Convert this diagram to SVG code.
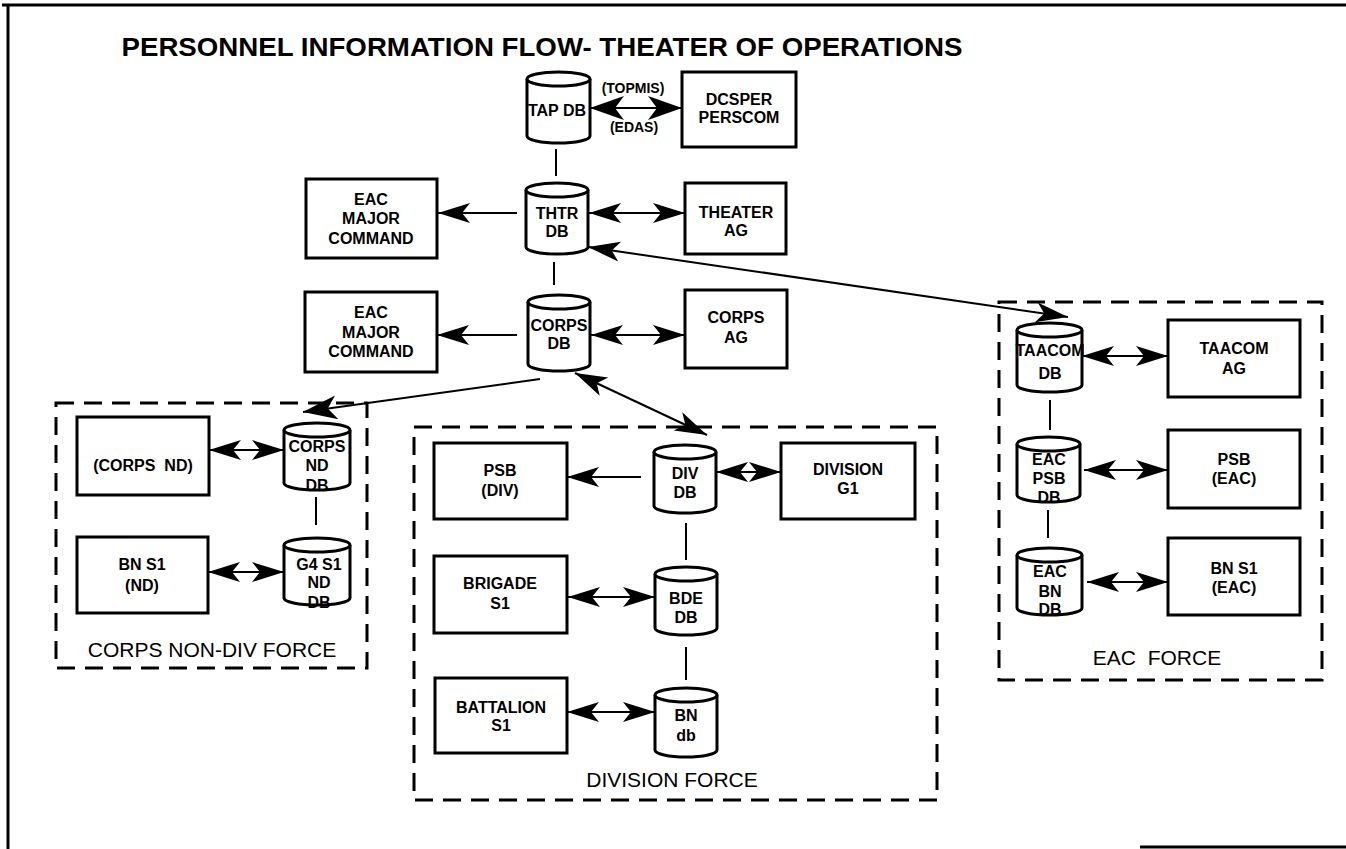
<svg xmlns="http://www.w3.org/2000/svg" width="1346" height="849" viewBox="0 0 1346 849">
  <style>
    text { font-family: "Liberation Sans", Arial, sans-serif; fill: #000; }
    .lbl { font-size: 16px; font-weight: bold; text-anchor: middle; }
    .sm { font-size: 14px; font-weight: bold; text-anchor: middle; }
    .grp { font-size: 21px; text-anchor: middle; }
    .title { font-size: 25px; font-weight: bold; text-anchor: middle; }
    .box { fill: #fff; stroke: #000; stroke-width: 3; }
    .cyl { fill: #fff; stroke: #000; stroke-width: 3; }
    .force { fill: none; stroke: #000; stroke-width: 3; stroke-dasharray: 18 10; }
    .frame { stroke: #000; stroke-width: 3; fill: none; }
    .link { stroke: #000; stroke-width: 2; fill: none; }
    .a1 { marker-end: url(#ah); }
    .a2 { marker-start: url(#ah); marker-end: url(#ah); }
    .b1 { marker-end: url(#ahl); }
    .b2 { marker-start: url(#ahl); marker-end: url(#ahl); }
  </style>
  <defs>
    <marker id="ah" viewBox="-34 -11 36 22" refX="0" refY="0" markerWidth="36" markerHeight="22" markerUnits="userSpaceOnUse" orient="auto-start-reverse">
      <path d="M0,0 L-32,-10 L-24,0 L-32,10 Z" fill="#000"/>
    </marker>
    <marker id="ahl" viewBox="-36 -13 38 26" refX="0" refY="0" markerWidth="38" markerHeight="26" markerUnits="userSpaceOnUse" orient="auto-start-reverse">
      <path d="M0,0 L-34,-12 L-25,0 L-34,12 Z" fill="#000"/>
    </marker>
  </defs>

  <rect width="1346" height="849" fill="#fff"/>

  <!-- page frame -->
  <g id="frame">
    <line class="frame" x1="2" y1="5" x2="1346" y2="5"/>
    <line class="frame" x1="8" y1="5" x2="8" y2="849"/>
    <line class="frame" x1="1140" y1="847" x2="1346" y2="847"/>
  </g>

  <text class="title" x="542" y="56" textLength="841" lengthAdjust="spacingAndGlyphs">PERSONNEL INFORMATION FLOW- THEATER OF OPERATIONS</text>

  <!-- force groupings -->
  <g id="corps-nondiv-force">
    <rect class="force" x="56" y="403" width="311" height="265"/>
    <text class="grp" x="212" y="657">CORPS NON-DIV FORCE</text>
  </g>
  <g id="division-force">
    <rect class="force" x="414" y="427" width="523" height="373"/>
    <text class="grp" x="672" y="787">DIVISION FORCE</text>
  </g>
  <g id="eac-force">
    <rect class="force" x="999" y="302" width="323" height="378"/>
    <text class="grp" x="1157" y="665">EAC&#160; FORCE</text>
  </g>

  <!-- connectors -->
  <g id="connectors">
    <line class="link b2" x1="590" y1="108" x2="682" y2="108"/>
    <text class="sm" x="633" y="93">(TOPMIS)</text>
    <text class="sm" x="634" y="132">(EDAS)</text>
    <line class="link" x1="556" y1="149" x2="556" y2="176"/>
    <line class="link a1" x1="517" y1="213" x2="438" y2="213"/>
    <line class="link a2" x1="589" y1="213" x2="685" y2="213"/>
    <line class="link a2" x1="588" y1="247" x2="1068" y2="317"/>
    <line class="link" x1="554" y1="262" x2="554" y2="285"/>
    <line class="link a1" x1="517" y1="335" x2="437" y2="335"/>
    <line class="link a2" x1="591" y1="335" x2="685" y2="335"/>
    <line class="link b1" x1="540" y1="379" x2="303" y2="412"/>
    <line class="link a2" x1="575" y1="373" x2="707" y2="435"/>
    <line class="link a2" x1="209" y1="450" x2="284" y2="450"/>
    <line class="link" x1="316" y1="497" x2="316" y2="525"/>
    <line class="link a2" x1="208" y1="572" x2="284" y2="572"/>
    <line class="link a1" x1="641" y1="477" x2="567" y2="477"/>
    <line class="link a2" x1="716" y1="472" x2="781" y2="472"/>
    <line class="link" x1="686" y1="523" x2="686" y2="560"/>
    <line class="link a2" x1="568" y1="597" x2="655" y2="597"/>
    <line class="link" x1="686" y1="647" x2="686" y2="680"/>
    <line class="link a2" x1="567" y1="712" x2="655" y2="712"/>
    <line class="link a2" x1="1082" y1="356" x2="1168" y2="356"/>
    <line class="link" x1="1050" y1="400" x2="1050" y2="430"/>
    <line class="link a2" x1="1084" y1="470" x2="1168" y2="470"/>
    <line class="link" x1="1048" y1="510" x2="1048" y2="538"/>
    <line class="link a2" x1="1087" y1="582" x2="1168" y2="582"/>
  </g>

  <!-- top chain -->
  <g id="tap-db">
    <path class="cyl" d="M527,79 A31.5,7 0 0 1 590,79 V136 A31.5,7 0 0 1 527,136 Z"/>
    <path class="cyl" d="M527,79 A31.5,7 0 0 0 590,79"/>
    <text class="lbl" x="557" y="116">TAP DB</text>
  </g>
  <g id="dcsper-perscom">
    <rect class="box" x="682" y="72" width="114" height="75"/>
    <text class="lbl" x="739" y="105">DCSPER</text>
    <text class="lbl" x="739" y="123">PERSCOM</text>
  </g>
  <g id="thtr-db">
    <path class="cyl" d="M526,190 A31,7 0 0 1 588,190 V247 A31,7 0 0 1 526,247 Z"/>
    <path class="cyl" d="M526,190 A31,7 0 0 0 588,190"/>
    <text class="lbl" x="557" y="219">THTR</text>
    <text class="lbl" x="557" y="237">DB</text>
  </g>
  <g id="eac-major-command-1">
    <rect class="box" x="306" y="179" width="131" height="79"/>
    <text class="lbl" x="371" y="205">EAC</text>
    <text class="lbl" x="371" y="224">MAJOR</text>
    <text class="lbl" x="371" y="244">COMMAND</text>
  </g>
  <g id="theater-ag">
    <rect class="box" x="685" y="183" width="101" height="71"/>
    <text class="lbl" x="736" y="218">THEATER</text>
    <text class="lbl" x="736" y="236">AG</text>
  </g>
  <g id="corps-db">
    <path class="cyl" d="M528,302 A31,7 0 0 1 590,302 V364 A31,7 0 0 1 528,364 Z"/>
    <path class="cyl" d="M528,302 A31,7 0 0 0 590,302"/>
    <text class="lbl" x="559" y="331">CORPS</text>
    <text class="lbl" x="559" y="349">DB</text>
  </g>
  <g id="eac-major-command-2">
    <rect class="box" x="305" y="292" width="132" height="80"/>
    <text class="lbl" x="371" y="318">EAC</text>
    <text class="lbl" x="371" y="338">MAJOR</text>
    <text class="lbl" x="371" y="357">COMMAND</text>
  </g>
  <g id="corps-ag">
    <rect class="box" x="685" y="290" width="102" height="78"/>
    <text class="lbl" x="736" y="323">CORPS</text>
    <text class="lbl" x="736" y="343">AG</text>
  </g>

  <!-- corps non-div -->
  <g id="corps-nd">
    <rect class="box" x="77" y="417" width="132" height="78"/>
    <text class="lbl" x="143" y="471">(CORPS&#160; ND)</text>
  </g>
  <g id="corps-nd-db">
    <path class="cyl" d="M284,430 A33,7 0 0 1 350,430 V483 A33,7 0 0 1 284,483 Z"/>
    <path class="cyl" d="M284,430 A33,7 0 0 0 350,430"/>
    <text class="lbl" x="317" y="452">CORPS</text>
    <text class="lbl" x="317" y="471">ND</text>
    <text class="lbl" x="317" y="491">DB</text>
  </g>
  <g id="bn-s1-nd">
    <rect class="box" x="77" y="537" width="131" height="76"/>
    <text class="lbl" x="142" y="570">BN S1</text>
    <text class="lbl" x="142" y="591">(ND)</text>
  </g>
  <g id="g4-s1-nd-db">
    <path class="cyl" d="M284,545 A33,7 0 0 1 350,545 V598 A33,7 0 0 1 284,598 Z"/>
    <path class="cyl" d="M284,545 A33,7 0 0 0 350,545"/>
    <text class="lbl" x="319" y="570">G4 S1</text>
    <text class="lbl" x="319" y="588">ND</text>
    <text class="lbl" x="319" y="608">DB</text>
  </g>

  <!-- division -->
  <g id="psb-div">
    <rect class="box" x="434" y="443" width="133" height="76"/>
    <text class="lbl" x="500" y="476">PSB</text>
    <text class="lbl" x="500" y="496">(DIV)</text>
  </g>
  <g id="div-db">
    <path class="cyl" d="M654,452 A31,7 0 0 1 716,452 V506 A31,7 0 0 1 654,506 Z"/>
    <path class="cyl" d="M654,452 A31,7 0 0 0 716,452"/>
    <text class="lbl" x="685" y="479">DIV</text>
    <text class="lbl" x="685" y="498">DB</text>
  </g>
  <g id="division-g1">
    <rect class="box" x="781" y="443" width="134" height="76"/>
    <text class="lbl" x="848" y="475">DIVISION</text>
    <text class="lbl" x="848" y="494">G1</text>
  </g>
  <g id="brigade-s1">
    <rect class="box" x="434" y="556" width="133" height="77"/>
    <text class="lbl" x="500" y="589">BRIGADE</text>
    <text class="lbl" x="500" y="609">S1</text>
  </g>
  <g id="bde-db">
    <path class="cyl" d="M655,574 A31,7 0 0 1 717,574 V628 A31,7 0 0 1 655,628 Z"/>
    <path class="cyl" d="M655,574 A31,7 0 0 0 717,574"/>
    <text class="lbl" x="686" y="604">BDE</text>
    <text class="lbl" x="686" y="623">DB</text>
  </g>
  <g id="battalion-s1">
    <rect class="box" x="435" y="678" width="132" height="75"/>
    <text class="lbl" x="501" y="713">BATTALION</text>
    <text class="lbl" x="501" y="731">S1</text>
  </g>
  <g id="bn-db">
    <path class="cyl" d="M655,695 A31,7 0 0 1 717,695 V750 A31,7 0 0 1 655,750 Z"/>
    <path class="cyl" d="M655,695 A31,7 0 0 0 717,695"/>
    <text class="lbl" x="686" y="721">BN</text>
    <text class="lbl" x="686" y="741">db</text>
  </g>

  <!-- echelons above corps -->
  <g id="taacom-db">
    <path class="cyl" d="M1017,330 A32.5,7 0 0 1 1082,330 V385 A32.5,7 0 0 1 1017,385 Z"/>
    <path class="cyl" d="M1017,330 A32.5,7 0 0 0 1082,330"/>
    <text class="lbl" x="1050" y="356">TAACOM</text>
    <text class="lbl" x="1050" y="379">DB</text>
  </g>
  <g id="taacom-ag">
    <rect class="box" x="1168" y="320" width="132" height="77"/>
    <text class="lbl" x="1234" y="354">TAACOM</text>
    <text class="lbl" x="1234" y="374">AG</text>
  </g>
  <g id="eac-psb-db">
    <path class="cyl" d="M1017,444 A31.5,7 0 0 1 1080,444 V495 A31.5,7 0 0 1 1017,495 Z"/>
    <path class="cyl" d="M1017,444 A31.5,7 0 0 0 1080,444"/>
    <text class="lbl" x="1049" y="465">EAC</text>
    <text class="lbl" x="1049" y="484">PSB</text>
    <text class="lbl" x="1049" y="503">DB</text>
  </g>
  <g id="psb-eac">
    <rect class="box" x="1168" y="430" width="132" height="78"/>
    <text class="lbl" x="1234" y="465">PSB</text>
    <text class="lbl" x="1234" y="484">(EAC)</text>
  </g>
  <g id="eac-bn-db">
    <path class="cyl" d="M1017,555 A32.5,7 0 0 1 1082,555 V608 A32.5,7 0 0 1 1017,608 Z"/>
    <path class="cyl" d="M1017,555 A32.5,7 0 0 0 1082,555"/>
    <text class="lbl" x="1050" y="577">EAC</text>
    <text class="lbl" x="1050" y="597">BN</text>
    <text class="lbl" x="1050" y="615">DB</text>
  </g>
  <g id="bn-s1-eac">
    <rect class="box" x="1168" y="538" width="132" height="77"/>
    <text class="lbl" x="1234" y="574">BN S1</text>
    <text class="lbl" x="1234" y="593">(EAC)</text>
  </g>
</svg>
